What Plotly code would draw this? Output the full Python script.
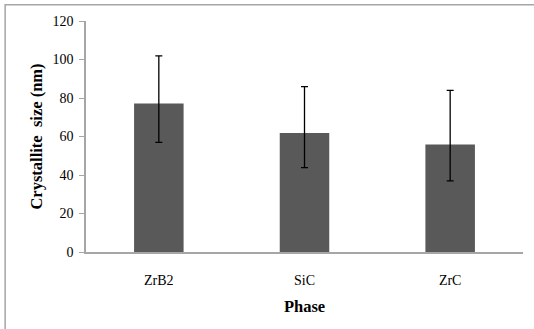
import plotly.graph_objects as go

phases = ["ZrB2", "SiC", "ZrC"]
sizes = [77.2, 61.8, 55.8]
err_plus = [24.7, 24.1, 28.2]
err_minus = [20.3, 18.0, 18.9]
y_ticks = [0, 20, 40, 60, 80, 100, 120]

fig = go.Figure(go.Bar(
    x=phases, y=sizes,
    marker=dict(color="#595959", line=dict(width=0)),
    error_y=dict(type="data", symmetric=False, array=err_plus, arrayminus=err_minus,
                 color="black", thickness=1.3, width=3.5),
))

font = "Liberation Serif, Times New Roman, serif"
fig.update_layout(
    width=534, height=329,
    margin=dict(l=86, r=11, t=21, b=77),
    paper_bgcolor="white", plot_bgcolor="white",
    bargap=0.66, showlegend=False,
    font=dict(family=font, size=14, color="black"),
    xaxis=dict(showline=True, linecolor="#a6a6a6", linewidth=1.5, ticks="",
               tickfont=dict(size=14), showgrid=False, ticklabelstandoff=14,
               title=dict(text="<b>Phase</b>", font=dict(size=16.5), standoff=14)),
    yaxis=dict(range=[0, 120], tickvals=y_ticks, showline=True, linecolor="#a6a6a6",
               linewidth=1.5, ticks="outside", ticklen=5, tickcolor="#a6a6a6",
               showgrid=False, zeroline=False, tickfont=dict(size=14), ticklabelstandoff=3,
               title=dict(text="<b>Crystallite  size (nm)</b>", font=dict(size=16.5), standoff=6)),
    shapes=[dict(type="rect", xref="paper", yref="paper", x0=-0.185, x1=1.2, y0=-0.5, y1=1.07,
                 line=dict(color="#a6a6a6", width=1.5))],
)
fig.write_html("out.html")
